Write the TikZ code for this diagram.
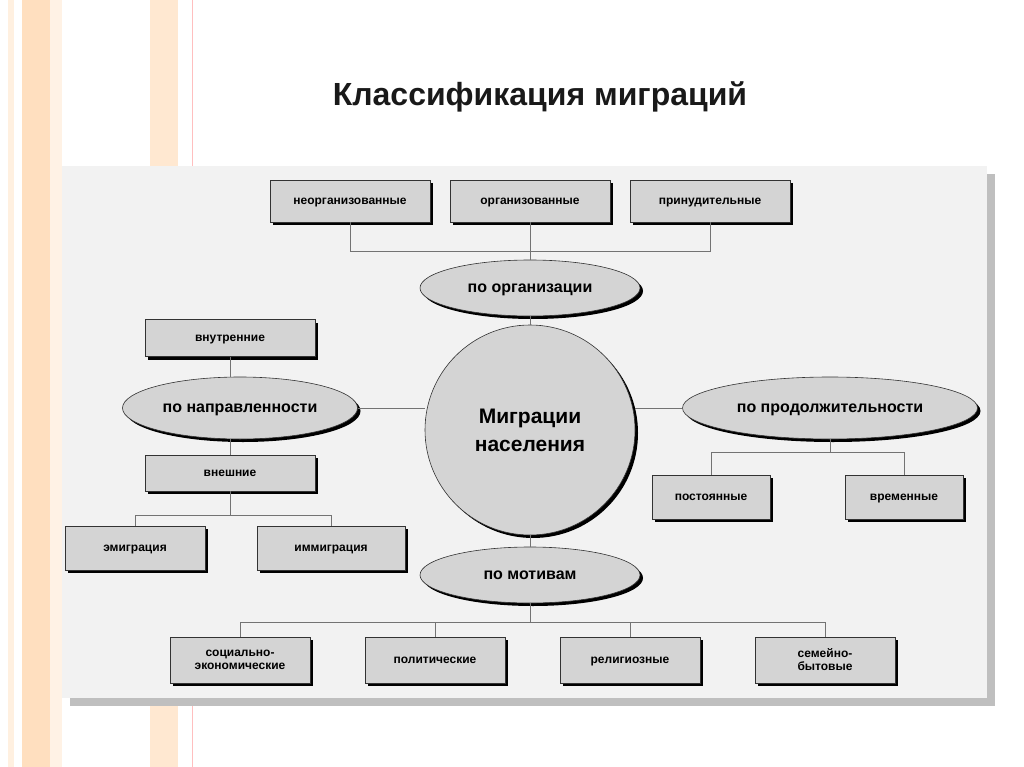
\documentclass[tikz,border=0pt]{standalone}
\usepackage{fontspec}
\setmainfont{Liberation Sans}
\usetikzlibrary{positioning,shadows,shapes.geometric}
\tikzset{
  kbox/.style={draw=black!80, fill=black!17, line width=0.6pt, minimum height=40pt,
    font=\fontsize{12}{13}\selectfont\bfseries, align=center, text height=9pt, text depth=2pt,
    drop shadow={shadow xshift=3pt, shadow yshift=-3pt, fill=black, opacity=1}},
  koval/.style={ellipse, draw=black!80, fill=black!17, line width=0.6pt, inner sep=0pt,
    font=\fontsize{16}{18}\selectfont\bfseries, text height=12pt, text depth=3pt,
    drop shadow={shadow xshift=3pt, shadow yshift=-3pt, fill=black, opacity=1}},
  klink/.style={draw=black!55, line width=0.8pt}
}
\begin{document}
\begin{tikzpicture}[x=1pt,y=-1pt]
\useasboundingbox (0,0) rectangle (1024,767);
% slide background
\fill[white] (0,0) rectangle (1024,767);
\fill[orange!12] (8,0) rectangle (14,767);
\fill[orange!25] (22,0) rectangle (50,767);
\fill[orange!10] (50,0) rectangle (62,767);
\fill[orange!18] (150,0) rectangle (178,767);
\draw[red!25, line width=1pt] (192,0) -- (192,767);
\fill[black!25] (70,174) rectangle (995,706);
\fill[black!5] (62,166) rectangle (987,698);
\node[font=\fontsize{32}{34}\selectfont\bfseries, text=black!90] (title) at (540,97) {Классификация миграций};
% centre
\node[ellipse, draw=black!80, fill=black!17, line width=0.6pt, minimum width=210pt, minimum height=210pt,
  font=\fontsize{21}{28}\selectfont\bfseries, align=center,
  drop shadow={shadow xshift=3pt, shadow yshift=-3pt, fill=black, opacity=1}] (mig) at (530,430) {Миграции\\населения};
\node[koval, minimum width=220pt, minimum height=56pt] (org) at (530,288) {по организации};
\node[koval, minimum width=235pt, minimum height=62pt] (napr) at (240,408) {по направленности};
\node[koval, minimum width=295pt, minimum height=62pt] (prod) at (830,408) {по продолжительности};
\node[koval, minimum width=220pt, minimum height=56pt] (mot) at (530,575) {по мотивам};
% boxes
\node[kbox, minimum width=160pt, minimum height=42pt] (neorg) at (350,201) {неорганизованные};
\node[kbox, minimum width=160pt, minimum height=42pt] (orgz) at (530,201) {организованные};
\node[kbox, minimum width=160pt, minimum height=42pt] (prin) at (710,201) {принудительные};
\node[kbox, minimum width=170pt, minimum height=37pt] (vnut) at (230,338) {внутренние};
\node[kbox, minimum width=170pt, minimum height=36pt] (vnesh) at (230,473) {внешние};
\node[kbox, minimum width=140pt, minimum height=44pt] (emig) at (135,548) {эмиграция};
\node[kbox, minimum width=148pt, minimum height=44pt] (immig) at (331,548) {иммиграция};
\node[kbox, minimum width=118pt, minimum height=44pt] (post) at (711,497) {постоянные};
\node[kbox, minimum width=118pt, minimum height=44pt] (vrem) at (904,497) {временные};
\node[kbox, minimum width=140pt, minimum height=46pt, text height=, text depth=] (soc) at (240,660) {социально-\\экономические};
\node[kbox, minimum width=140pt, minimum height=46pt] (pol) at (435,660) {политические};
\node[kbox, minimum width=140pt, minimum height=46pt] (rel) at (630,660) {религиозные};
\node[kbox, minimum width=140pt, minimum height=46pt, text height=, text depth=] (sem) at (825,660) {семейно-\\бытовые};
% connectors
\draw[klink] (mig) -- (org);
\draw[klink] (napr.east) -- (mig.west |- napr.east);
\draw[klink] (prod.west) -- (mig.east |- prod.west);
\draw[klink] (mig) -- (mot);
\draw[klink] (org.north) -- ++(0,-8) coordinate (ot);
\draw[klink] (neorg.south) |- (ot) -| (prin.south);
\draw[klink] (orgz.south) -- (ot);
\draw[klink] (vnut.south) -- (vnut.south |- napr.north);
\draw[klink] (vnesh.north) -- (vnesh.north |- napr.south);
\draw[klink] (vnesh.south) -- ++(0,24) coordinate (vt);
\draw[klink] (emig.north) |- (vt) -| (immig.north);
\draw[klink] (prod.south) -- ++(0,13) coordinate (pt);
\draw[klink] (post.north) |- (pt) -| (vrem.north);
\draw[klink] (mot.south) -- ++(0,19) coordinate (mt);
\draw[klink] (soc.north) |- (mt) -| (sem.north);
\draw[klink] (pol.north) -- (pol.north |- mt);
\draw[klink] (rel.north) -- (rel.north |- mt);
\end{tikzpicture}
\end{document}
